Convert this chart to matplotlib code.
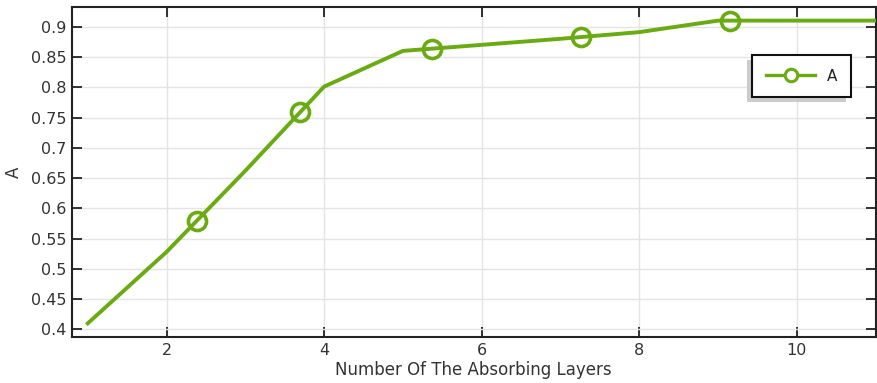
import numpy as np
import matplotlib
matplotlib.use('Agg')
import matplotlib.pyplot as plt
from matplotlib.lines import Line2D
from matplotlib.patches import Rectangle
from matplotlib.transforms import IdentityTransform
from matplotlib.ticker import FuncFormatter

# absorption vs number of absorbing layers
layers = [1, 2, 3, 4, 5, 6, 7, 8, 9, 10, 11]
absorb = [0.41, 0.528, 0.662, 0.801, 0.860, 0.870, 0.880, 0.891, 0.910, 0.910, 0.910]
xticks = [2, 4, 6, 8, 10]
yticks = [0.4, 0.45, 0.5, 0.55, 0.6, 0.65, 0.7, 0.75, 0.8, 0.85, 0.9]

GREEN = '#6AAA12'
MARK_STEP = 150  # px along the curve between markers (comsol style)

fig = plt.figure(figsize=(8.77, 3.83), dpi=100)
ax = fig.add_axes([0.0821, 0.1193, 0.9162, 0.8632])
ax.plot(layers, absorb, color=GREEN, lw=2.8, zorder=3)
ax.set_xlim(0.8, 11)
ax.set_ylim(0.387, 0.933)

# markers spaced evenly by arc length in display coords, like comsol does
pts = ax.transData.transform(np.column_stack([layers, absorb]))
seg = np.hypot(*np.diff(pts, axis=0).T)
s = np.concatenate([[0], np.cumsum(seg)])
targets = np.arange(MARK_STEP, s[-1] - MARK_STEP / 2, MARK_STEP)
mpx = np.column_stack([np.interp(targets, s, pts[:, 0]), np.interp(targets, s, pts[:, 1])])
mdat = ax.transData.inverted().transform(mpx)
ax.plot(mdat[:, 0], mdat[:, 1], ls='none', marker='o', ms=13, mfc='none',
        mec=GREEN, mew=2.6, zorder=4)

ax.set_xticks(xticks)
ax.set_yticks(yticks)
ax.yaxis.set_major_formatter(FuncFormatter(lambda v, p: f'{v:g}'))
ax.grid(True, color='#e4e4e4', lw=1.0)
ax.set_axisbelow(True)
ax.tick_params(direction='in', top=True, right=True, length=7, width=1.3, pad=4,
               labelsize=11.5, labelcolor='#333333', color='#222222')
for sp in ax.spines.values():
    sp.set_linewidth(1.5)
    sp.set_color('#222222')

ax.set_xlabel('Number Of The Absorbing Layers', fontsize=12, color='#333333', labelpad=2)
ax.set_ylabel('A', fontsize=12, color='#333333', labelpad=6)

h = Line2D([], [], color=GREEN, lw=2.4, marker='o', ms=9, mfc='white', mec=GREEN, mew=2.2)
leg = ax.legend([h], ['A'], loc='upper left', bbox_to_anchor=(0.8467, 0.854),
                borderaxespad=0, fancybox=False, framealpha=1, edgecolor='#111111',
                fontsize=11, handlelength=3.2, handletextpad=0.8, borderpad=0.9)
leg.get_frame().set_linewidth(1.5)
for t in leg.get_texts():
    t.set_color('#222222')

# shadow down-left of the legend box
fig.canvas.draw()
bb = leg.legendPatch.get_window_extent()
ax.add_patch(Rectangle((bb.x0 - 5, bb.y0 - 5), bb.width, bb.height,
                       transform=IdentityTransform(), facecolor='#cccccc',
                       edgecolor='none', zorder=4.5, clip_on=False))

fig.savefig('out.png', dpi=100)
